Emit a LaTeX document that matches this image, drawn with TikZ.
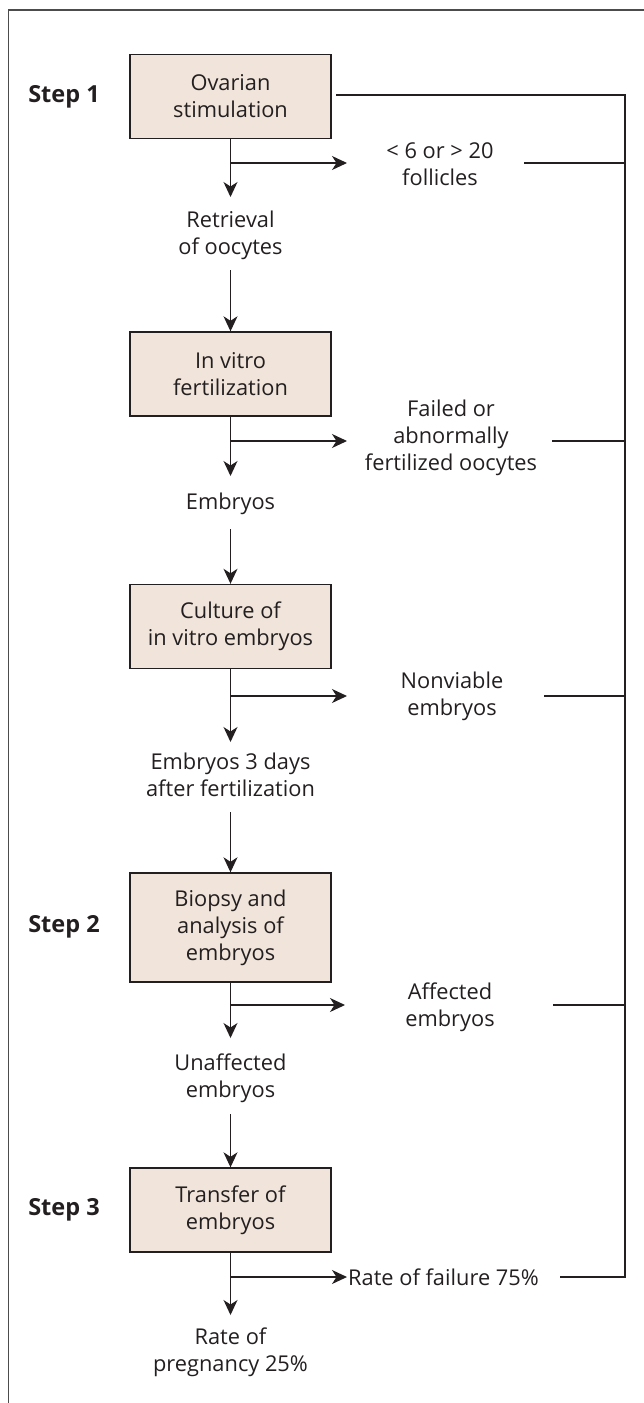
\documentclass[tikz,border=0pt]{standalone}
\usepackage{fontspec}
\setmainfont{Open Sans}
\usetikzlibrary{arrows.meta}
\definecolor{boxfill}{RGB}{241,228,218}
\definecolor{ink}{RGB}{35,31,32}
\begin{document}
\begin{tikzpicture}[x=1pt,y=-1pt,
  every node/.style={text=ink,font=\fontsize{21.8}{27}\selectfont,align=center,inner sep=0pt},
  stepbox/.style={draw=ink,fill=boxfill,line width=1.4pt,minimum width=201pt,minimum height=84pt},
  steplabel/.style={font=\fontsize{23.5}{27}\selectfont\bfseries},
  conn/.style={draw=ink,line width=1.2pt},
  arr/.style={conn,-{Stealth[length=15pt,width=14pt,inset=4.5pt]}},
  frame/.style={draw=black!70,line width=1.3pt}]
\useasboundingbox (0,0) rectangle (644,1403);
% frame
\draw[frame] (644,10) -- (8.5,10) -- (8.5,1403);

% step labels
\node[steplabel] (st1) at (64,97) {Step 1};
\node[steplabel] (st2) at (64,927) {Step 2};
\node[steplabel] (st3) at (64,1210) {Step 3};

% boxes
\node[stepbox] (b1) at (230.5,96.5) {Ovarian\\stimulation};
\node[stepbox] (b2) at (230.5,374) {In vitro\\fertilization};
\node[stepbox] (b3) at (230.5,626.5) {Culture of\\in vitro embryos};
\node[stepbox,minimum height=109pt] (b4) at (230.5,927.5) {Biopsy and\\analysis of\\embryos};
\node[stepbox] (b5) at (230.5,1210) {Transfer of\\embryos};

% intermediate texts
\node (r1) at (230.5,235) {Retrieval\\of oocytes};
\node (e1) at (230.5,504) {Embryos};
\node (e3) at (230.5,774.5) {Embryos 3 days\\after fertilization};
\node (u1) at (230.5,1078) {Unaffected\\embryos};
\node (p1) at (230.5,1352) {Rate of\\pregnancy 25\%};

% side texts
\node (s1) at (440,164) {< 6 or > 20\\follicles};
\node (s2) at (451,438) {Failed or\\abnormally\\fertilized oocytes};
\node (s3) at (452,696) {Nonviable\\embryos};
\node (s4) at (450,1007) {Affected\\embryos};
\node[anchor=west] (s5) at (348,1277) {Rate of failure 75\%};

% coordinates
\coordinate (t1) at (230.5,197);
\coordinate (a2) at (230.5,270);
\coordinate (t2) at (230.5,476);
\coordinate (a3) at (230.5,529);
\coordinate (t3) at (230.5,742);
\coordinate (a4) at (230.5,812);
\coordinate (t4) at (230.5,1038);
\coordinate (a5) at (230.5,1114);
\coordinate (t5) at (230.5,1315);

\coordinate (j1) at (230.5,163);
\coordinate (j2) at (230.5,441);
\coordinate (j3) at (230.5,696);
\coordinate (j4) at (230.5,1005);
\coordinate (j5) at (230.5,1277);
\coordinate (k1) at (347,163);
\coordinate (k2) at (347,441);
\coordinate (k3) at (347,696);
\coordinate (k4) at (345,1005);
\coordinate (k5) at (347,1277);

\coordinate (h0) at (336,95);
\coordinate (h1) at (524,163);
\coordinate (h2) at (552,441);
\coordinate (h3) at (544,696);
\coordinate (h4) at (553,1005);
\coordinate (h5) at (560,1277);
\coordinate (bus) at (625,0);

% main column
\draw[arr] (b1.south) -- (t1);
\draw[arr] (a2) -- (b2.north);
\draw[arr] (b2.south) -- (t2);
\draw[arr] (a3) -- (b3.north);
\draw[arr] (b3.south) -- (t3);
\draw[arr] (a4) -- (b4.north);
\draw[arr] (b4.south) -- (t4);
\draw[arr] (a5) -- (b5.north);
\draw[arr] (b5.south) -- (t5);

% branches
\draw[arr] (j1) -- (k1);
\draw[arr] (j2) -- (k2);
\draw[arr] (j3) -- (k3);
\draw[arr] (j4) -- (k4);
\draw[arr] (j5) -- (k5);

% bus
\draw[conn] (h0) -- (h0 -| bus) -- (h5 -| bus) -- (h5);
\draw[conn] (h1) -- (h1 -| bus);
\draw[conn] (h2) -- (h2 -| bus);
\draw[conn] (h3) -- (h3 -| bus);
\draw[conn] (h4) -- (h4 -| bus);
\end{tikzpicture}
\end{document}
